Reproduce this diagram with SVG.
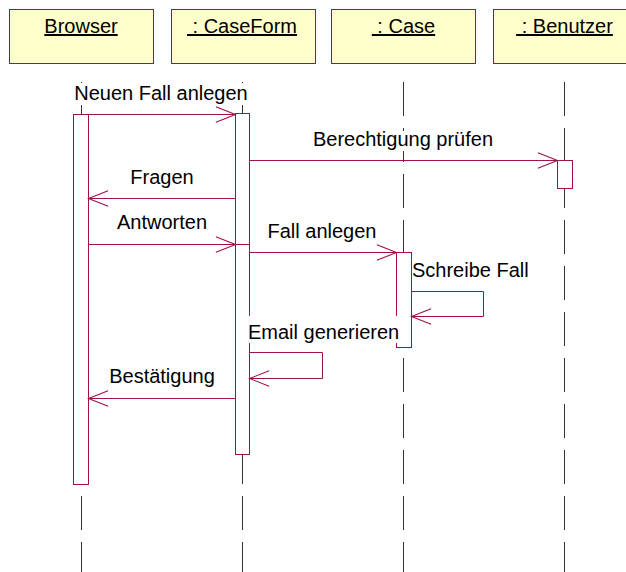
<svg xmlns="http://www.w3.org/2000/svg" width="626" height="572" viewBox="0 0 626 572">
  <style>
    .obj { fill: #FFFFCC; stroke: #A0104A; stroke-width: 1; }
    .life { stroke: #333333; stroke-width: 1; stroke-dasharray: 34 12; fill: none; }
    .act { fill: #FFFFFF; stroke: #A0104A; stroke-width: 1; }
    .msg { fill: none; stroke: #A0104A; stroke-width: 1; marker-end: url(#open); }
    .lbl { font-family: "Liberation Sans", Arial, sans-serif; font-size: 20px; fill: #000000; }
    .name { font-family: "Liberation Sans", Arial, sans-serif; font-size: 20px; fill: #000000; text-anchor: middle; text-decoration: underline; white-space: pre; }
    .bg { fill: #FFFFFF; stroke: none; }
  </style>
  <defs>
    <marker id="open" markerUnits="userSpaceOnUse" markerWidth="24" markerHeight="20" refX="0" refY="0" viewBox="-20 -9 22 18" orient="auto" overflow="visible">
      <path d="M-18,-7 L0,0 L-18,7" fill="none" stroke="#A0104A" stroke-width="1"/>
    </marker>
  </defs>

  <!-- lifelines -->
  <g id="lifelines">
    <line class="life" x1="81.5" y1="82" x2="81.5" y2="572"/>
    <line class="life" x1="242.5" y1="82" x2="242.5" y2="572"/>
    <line class="life" x1="403.5" y1="82" x2="403.5" y2="572"/>
    <line class="life" x1="564.5" y1="82" x2="564.5" y2="572"/>
  </g>

  <!-- objects -->
  <g id="browser">
    <rect class="obj" x="9.5" y="9.5" width="144" height="54"/>
    <text class="name" x="81" y="33" xml:space="preserve">Browser</text>
    <rect class="act" x="73.5" y="114.5" width="15" height="370"/>
  </g>
  <g id="caseform">
    <rect class="obj" x="171.5" y="9.5" width="144" height="54"/>
    <text class="name" x="242" y="33" xml:space="preserve"> : CaseForm</text>
    <rect class="act" x="235.5" y="113.5" width="14" height="131"/>
    <rect class="act" x="235.5" y="244.5" width="14" height="210"/>
  </g>
  <g id="case">
    <rect class="obj" x="331.5" y="9.5" width="144" height="54"/>
    <text class="name" x="403.5" y="33" xml:space="preserve"> : Case</text>
    <rect class="act" x="396.5" y="252.5" width="15" height="95"/>
  </g>
  <g id="benutzer">
    <rect class="obj" x="493.5" y="9.5" width="144" height="54"/>
    <text class="name" x="564.5" y="33" xml:space="preserve"> : Benutzer</text>
    <rect class="act" x="557.5" y="160.5" width="15" height="28"/>
  </g>

  <!-- messages -->
  <g id="connectors">
    <rect class="bg" x="72" y="83" width="178" height="22"/>
    <text class="lbl" x="161" y="100" text-anchor="middle">Neuen Fall anlegen</text>
    <line class="msg" x1="88.5" y1="114.5" x2="235.5" y2="114.5"/>

    <rect class="bg" x="311" y="131" width="184" height="20"/>
    <text class="lbl" x="403" y="146" text-anchor="middle">Berechtigung prüfen</text>
    <line class="msg" x1="249.5" y1="160.5" x2="557.5" y2="160.5"/>

    <text class="lbl" x="162" y="184" text-anchor="middle">Fragen</text>
    <line class="msg" x1="235.5" y1="198.5" x2="88.5" y2="198.5"/>

    <text class="lbl" x="162" y="229" text-anchor="middle">Antworten</text>
    <line class="msg" x1="88.5" y1="244.5" x2="235.5" y2="244.5"/>

    <text class="lbl" x="322" y="238" text-anchor="middle">Fall anlegen</text>
    <line class="msg" x1="249.5" y1="252.5" x2="396.5" y2="252.5"/>

    <text class="lbl" x="412" y="277">Schreibe Fall</text>
    <polyline class="msg" points="411.5,291.5 483.5,291.5 483.5,316.5 411.5,316.5"/>

    <rect class="bg" x="246" y="316" width="154" height="27"/>
    <text class="lbl" x="248" y="339">Email generieren</text>
    <polyline class="msg" points="249.5,352.5 322.5,352.5 322.5,378.5 249.5,378.5"/>

    <text class="lbl" x="162" y="383" text-anchor="middle">Bestätigung</text>
    <line class="msg" x1="235.5" y1="398.5" x2="88.5" y2="398.5"/>
  </g>
</svg>
